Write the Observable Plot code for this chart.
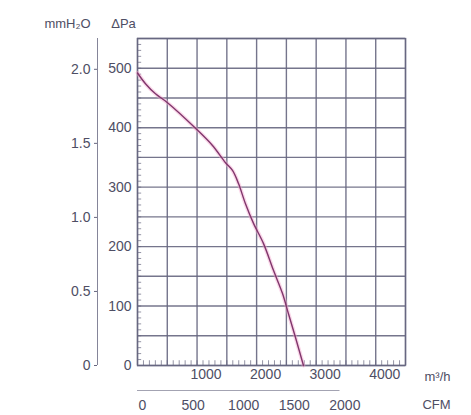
<!DOCTYPE html>
<html>
<head>
<meta charset="utf-8">
<script src="https://cdn.jsdelivr.net/npm/d3@7"></script>
<script src="https://cdn.jsdelivr.net/npm/@observablehq/plot@0.6"></script>
<style>
  html, body { margin: 0; padding: 0; background: #fff; }
  #chart svg { display: block; }
</style>
</head>
<body>
<div id="chart"></div>
<script>
// Airflow (m³/h) vs static pressure (Pa)
const flow = [0, 134, 302, 504, 974, 1259, 1478, 1595, 1696, 1813, 1948, 2116, 2283, 2435, 2535, 2653, 2787];
const pressure = [492, 474, 457, 442, 399, 370, 341, 328, 306, 272, 239, 205, 160, 121, 87, 47, 0];

const flowTicks = [1000, 2000, 3000, 4000];
const paTicks = [0, 100, 200, 300, 400, 500];
const inH2OTicks = [0, 0.5, 1.0, 1.5, 2.0];
const cfmTicks = [0, 500, 1000, 1500, 2000];

const PA_PER_INH2O = 249.09;
const M3H_PER_CFM = 1.699;

const curve = flow.map((f, i) => ({flow: f, pa: pressure[i]}));

const gridColor = "#66667f";
const textColor = "#4e4e64";
const font = "Liberation Sans, Arial, sans-serif";

const chart = Plot.plot({
  width: 471,
  height: 415,
  marginLeft: 137,
  marginRight: 66,
  marginTop: 38,
  marginBottom: 50,
  style: {fontFamily: font, fontSize: "13px", color: textColor, background: "#fff"},
  x: {domain: [0, 4500], axis: null},
  y: {domain: [0, 550], axis: null},
  marks: [
    Plot.gridX(d3.range(0, 4501, 500), {stroke: gridColor, strokeOpacity: 0.9, strokeWidth: 1.4}),
    Plot.gridY(d3.range(0, 551, 50), {stroke: gridColor, strokeOpacity: 0.9, strokeWidth: 1.4}),
    Plot.frame({stroke: gridColor, strokeOpacity: 0.9, strokeWidth: 1.4}),
    // minor ticks inside the frame
    Plot.ruleY(d3.range(0, 551, 10), {x1: 0, x2: 70, stroke: gridColor, strokeOpacity: 0.7}),
    Plot.ruleX(d3.range(0, 4501, 100), {y1: 0, y2: 8, stroke: gridColor, strokeOpacity: 0.7}),
    // curve with a pink halo
    Plot.line(curve, {x: "flow", y: "pa", stroke: "#f3a6cf", strokeWidth: 4, strokeOpacity: 0.45, curve: "catmull-rom"}),
    Plot.line(curve, {x: "flow", y: "pa", stroke: "#80366c", strokeWidth: 1.4, curve: "catmull-rom"}),
    // Pa axis
    Plot.axisY({anchor: "left", label: null, ticks: paTicks, tickFormat: d => String(d), tickSize: 0, tickPadding: 6, fontSize: 14, fill: textColor}),
    // inH2O axis (labelled mmH2O in the original)
    Plot.ruleX([0], {dx: -40, y1: 0, y2: 550, stroke: gridColor, strokeOpacity: 0.8}),
    Plot.axisY({anchor: "left", label: null, ticks: inH2OTicks.map(v => v * PA_PER_INH2O),
      tickFormat: d => d === 0 ? "0" : (d / PA_PER_INH2O).toFixed(1),
      dx: -40, tickSize: 3, tickPadding: 4, stroke: gridColor, fontSize: 14, fill: textColor}),
    // m³/h axis
    Plot.axisX({anchor: "bottom", label: null, ticks: flowTicks, tickFormat: d => String(d), tickSize: 0, tickPadding: 4, dx: 9, fontSize: 14, fill: textColor}),
    // CFM axis
    Plot.ruleY([0], {dy: 25, x1: 0, x2: 3400, stroke: gridColor, strokeOpacity: 0.6}),
    Plot.text(cfmTicks, {x: d => d * M3H_PER_CFM, y: 0, dy: 40, dx: 5, text: d => String(d), fill: textColor, fontSize: 14}),
    // unit labels
    Plot.text(["m³/h"], {frameAnchor: "bottom-right", textAnchor: "middle", lineAnchor: "middle", dx: 32, dy: 11, fill: textColor, fontSize: 13}),
    Plot.text(["CFM"], {frameAnchor: "bottom-right", textAnchor: "middle", lineAnchor: "middle", dx: 31, dy: 39, fill: textColor, fontSize: 13}),
    Plot.text(["mmH₂O"], {frameAnchor: "top-left", textAnchor: "middle", lineAnchor: "middle", dx: -70, dy: -15, fill: textColor, fontSize: 13}),
    Plot.text(["ΔPa"], {frameAnchor: "top-left", textAnchor: "middle", lineAnchor: "middle", dx: -14, dy: -15, fill: textColor, fontSize: 13})
  ]
});

document.getElementById("chart").appendChild(chart);
</script>
</body>
</html>
